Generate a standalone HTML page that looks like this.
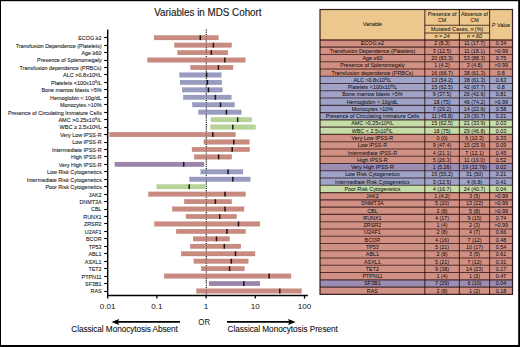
<!DOCTYPE html>
<html><head><meta charset="utf-8"><style>
html,body{margin:0;padding:0;background:#fff;}
body{width:520px;height:347px;position:relative;overflow:hidden;font-family:"Liberation Sans",sans-serif;}
svg text{font-family:"Liberation Sans",sans-serif;}
svg text.s{stroke:#222;stroke-width:0.1px;}
svg text.t{stroke:rgba(0,0,0,0.7);stroke-width:0.1px;}
</style></head><body>
<svg width="520" height="347" viewBox="0 0 520 347" style="position:absolute;left:0;top:0">
<text x="154.2" y="15.5" font-size="10.4" fill="#1a1a1a" stroke="#1a1a1a" stroke-width="0.15" textLength="107.4" lengthAdjust="spacingAndGlyphs">Variables in MDS Cohort</text>
<line x1="206.3" y1="29.5" x2="206.3" y2="295.5" stroke="#111" stroke-width="1.1" stroke-dasharray="1.1,1.1"/>
<rect x="154.1" y="35.45" width="64.3" height="4.5" fill="#c98a80" stroke="#b87b72" stroke-width="0.3"/>
<rect x="199.55" y="35.30" width="1.5" height="4.8" fill="rgba(10,0,0,0.88)"/>
<text x="101.6" y="40.10" font-size="6.1" text-anchor="end" fill="#222" class="s" textLength="23.37" lengthAdjust="spacingAndGlyphs">ECOG ≥2</text>
<line x1="104.2" y1="37.50" x2="107.7" y2="37.50" stroke="#000" stroke-width="1.1"/>
<rect x="174.4" y="42.90" width="57.2" height="4.5" fill="#c98a80" stroke="#b87b72" stroke-width="0.3"/>
<rect x="212.65" y="42.75" width="1.5" height="4.8" fill="rgba(10,0,0,0.88)"/>
<text x="101.6" y="47.55" font-size="6.1" text-anchor="end" fill="#222" class="s" textLength="85.94" lengthAdjust="spacingAndGlyphs">Transfusion Dependence (Platelets)</text>
<line x1="104.2" y1="45.50" x2="107.7" y2="45.50" stroke="#000" stroke-width="1.1"/>
<rect x="177.7" y="50.35" width="50.2" height="4.5" fill="#c98a80" stroke="#b87b72" stroke-width="0.3"/>
<rect x="210.55" y="50.20" width="1.5" height="4.8" fill="rgba(10,0,0,0.88)"/>
<text x="101.6" y="55.00" font-size="6.1" text-anchor="end" fill="#222" class="s" textLength="20.08" lengthAdjust="spacingAndGlyphs">Age ≥60</text>
<line x1="104.2" y1="52.50" x2="107.7" y2="52.50" stroke="#000" stroke-width="1.1"/>
<rect x="147.6" y="57.80" width="97.6" height="4.5" fill="#c98a80" stroke="#b87b72" stroke-width="0.3"/>
<rect x="224.05" y="57.65" width="1.5" height="4.8" fill="rgba(10,0,0,0.88)"/>
<text x="101.6" y="62.45" font-size="6.1" text-anchor="end" fill="#222" class="s" textLength="64.54" lengthAdjust="spacingAndGlyphs">Presence of Splenomegaly</text>
<line x1="104.2" y1="60.50" x2="107.7" y2="60.50" stroke="#000" stroke-width="1.1"/>
<rect x="190.5" y="65.25" width="42.5" height="4.5" fill="#c98a80" stroke="#b87b72" stroke-width="0.3"/>
<rect x="217.65" y="65.10" width="1.5" height="4.8" fill="rgba(10,0,0,0.88)"/>
<text x="101.6" y="69.90" font-size="6.1" text-anchor="end" fill="#222" class="s" textLength="82.04" lengthAdjust="spacingAndGlyphs">Transfusion dependence (PRBCs)</text>
<line x1="104.2" y1="67.50" x2="107.7" y2="67.50" stroke="#000" stroke-width="1.1"/>
<rect x="179.6" y="72.70" width="41.6" height="4.5" fill="#979cc0" stroke="#868bb0" stroke-width="0.3"/>
<rect x="205.85" y="72.55" width="1.5" height="4.8" fill="rgba(10,0,0,0.88)"/>
<text x="101.6" y="77.30" font-size="5.5" text-anchor="end" fill="#222" class="s">ALC &gt;0.8x10<tspan font-size='3.6' dy='-1.8'>9</tspan><tspan dy='1.8'>/L</tspan></text>
<line x1="104.2" y1="74.50" x2="107.7" y2="74.50" stroke="#000" stroke-width="1.1"/>
<rect x="180.1" y="80.15" width="41.7" height="4.5" fill="#979cc0" stroke="#868bb0" stroke-width="0.3"/>
<rect x="206.65" y="80.00" width="1.5" height="4.8" fill="rgba(10,0,0,0.88)"/>
<text x="101.6" y="84.75" font-size="5.5" text-anchor="end" fill="#222" class="s">Platelets &lt;100x10<tspan font-size='3.6' dy='-1.8'>9</tspan><tspan dy='1.8'>/L</tspan></text>
<line x1="104.2" y1="82.50" x2="107.7" y2="82.50" stroke="#000" stroke-width="1.1"/>
<rect x="182.2" y="87.60" width="40.2" height="4.5" fill="#979cc0" stroke="#868bb0" stroke-width="0.3"/>
<rect x="207.75" y="87.45" width="1.5" height="4.8" fill="rgba(10,0,0,0.88)"/>
<text x="101.6" y="92.25" font-size="6.1" text-anchor="end" fill="#222" class="s" textLength="60.18" lengthAdjust="spacingAndGlyphs">Bone marrow blasts &gt;5%</text>
<line x1="104.2" y1="89.50" x2="107.7" y2="89.50" stroke="#000" stroke-width="1.1"/>
<rect x="183.3" y="95.05" width="48.0" height="4.5" fill="#979cc0" stroke="#868bb0" stroke-width="0.3"/>
<rect x="214.65" y="94.90" width="1.5" height="4.8" fill="rgba(10,0,0,0.88)"/>
<text x="101.6" y="99.70" font-size="6.1" text-anchor="end" fill="#222" class="s" textLength="51.48" lengthAdjust="spacingAndGlyphs">Hemoglobin &lt; 10g/dL</text>
<line x1="104.2" y1="97.50" x2="107.7" y2="97.50" stroke="#000" stroke-width="1.1"/>
<rect x="192.4" y="102.50" width="42.1" height="4.5" fill="#979cc0" stroke="#868bb0" stroke-width="0.3"/>
<rect x="219.75" y="102.35" width="1.5" height="4.8" fill="rgba(10,0,0,0.88)"/>
<text x="101.6" y="107.15" font-size="6.1" text-anchor="end" fill="#222" class="s" textLength="41.57" lengthAdjust="spacingAndGlyphs">Monocytes &gt;10%</text>
<line x1="104.2" y1="104.50" x2="107.7" y2="104.50" stroke="#000" stroke-width="1.1"/>
<rect x="198.5" y="109.95" width="42.8" height="4.5" fill="#979cc0" stroke="#868bb0" stroke-width="0.3"/>
<rect x="225.65" y="109.80" width="1.5" height="4.8" fill="rgba(10,0,0,0.88)"/>
<text x="101.6" y="114.60" font-size="6.1" text-anchor="end" fill="#222" class="s" textLength="93.63" lengthAdjust="spacingAndGlyphs">Presence of Circulating Immature Cells</text>
<line x1="104.2" y1="112.50" x2="107.7" y2="112.50" stroke="#000" stroke-width="1.1"/>
<rect x="211.0" y="117.40" width="40.8" height="4.5" fill="#b6d498" stroke="#a3c286" stroke-width="0.3"/>
<rect x="236.95" y="117.25" width="1.5" height="4.8" fill="rgba(10,0,0,0.88)"/>
<text x="101.6" y="122.00" font-size="5.5" text-anchor="end" fill="#222" class="s">AMC &gt;0.25x10<tspan font-size='3.6' dy='-1.8'>9</tspan><tspan dy='1.8'>/L</tspan></text>
<line x1="104.2" y1="119.50" x2="107.7" y2="119.50" stroke="#000" stroke-width="1.1"/>
<rect x="210.6" y="124.85" width="45.0" height="4.5" fill="#b6d498" stroke="#a3c286" stroke-width="0.3"/>
<rect x="232.05" y="124.70" width="1.5" height="4.8" fill="rgba(10,0,0,0.88)"/>
<text x="101.6" y="129.45" font-size="5.5" text-anchor="end" fill="#222" class="s">WBC ≥ 2.5x10<tspan font-size='3.6' dy='-1.8'>9</tspan><tspan dy='1.8'>/L</tspan></text>
<line x1="104.2" y1="127.50" x2="107.7" y2="127.50" stroke="#000" stroke-width="1.1"/>
<rect x="109.7" y="132.30" width="125.8" height="4.5" fill="#c98a80" stroke="#b87b72" stroke-width="0.3"/>
<rect x="212.05" y="132.15" width="1.5" height="4.8" fill="rgba(10,0,0,0.88)"/>
<text x="101.6" y="136.95" font-size="6.1" text-anchor="end" fill="#222" class="s" textLength="41.72" lengthAdjust="spacingAndGlyphs">Very Low IPSS-R</text>
<line x1="104.2" y1="134.50" x2="107.7" y2="134.50" stroke="#000" stroke-width="1.1"/>
<rect x="203.9" y="139.75" width="45.4" height="4.5" fill="#c98a80" stroke="#b87b72" stroke-width="0.3"/>
<rect x="233.05" y="139.60" width="1.5" height="4.8" fill="rgba(10,0,0,0.88)"/>
<text x="101.6" y="144.40" font-size="6.1" text-anchor="end" fill="#222" class="s" textLength="29.41" lengthAdjust="spacingAndGlyphs">Low IPSS-R</text>
<line x1="104.2" y1="142.50" x2="107.7" y2="142.50" stroke="#000" stroke-width="1.1"/>
<rect x="192.0" y="147.20" width="57.7" height="4.5" fill="#c98a80" stroke="#b87b72" stroke-width="0.3"/>
<rect x="231.45" y="147.05" width="1.5" height="4.8" fill="rgba(10,0,0,0.88)"/>
<text x="101.6" y="151.85" font-size="6.1" text-anchor="end" fill="#222" class="s" textLength="49.52" lengthAdjust="spacingAndGlyphs">Intermediate IPSS-R</text>
<line x1="104.2" y1="149.50" x2="107.7" y2="149.50" stroke="#000" stroke-width="1.1"/>
<rect x="194.3" y="154.65" width="37.4" height="4.5" fill="#c98a80" stroke="#b87b72" stroke-width="0.3"/>
<rect x="217.85" y="154.50" width="1.5" height="4.8" fill="rgba(10,0,0,0.88)"/>
<text x="101.6" y="159.30" font-size="6.1" text-anchor="end" fill="#222" class="s" textLength="30.61" lengthAdjust="spacingAndGlyphs">High IPSS-R</text>
<line x1="104.2" y1="156.50" x2="107.7" y2="156.50" stroke="#000" stroke-width="1.1"/>
<rect x="114.9" y="162.10" width="89.1" height="4.5" fill="#9b85ab" stroke="#8a749a" stroke-width="0.3"/>
<rect x="182.95" y="161.95" width="1.5" height="4.8" fill="rgba(10,0,0,0.88)"/>
<text x="101.6" y="166.75" font-size="6.1" text-anchor="end" fill="#222" class="s" textLength="42.91" lengthAdjust="spacingAndGlyphs">Very High IPSS-R</text>
<line x1="104.2" y1="164.50" x2="107.7" y2="164.50" stroke="#000" stroke-width="1.1"/>
<rect x="200.8" y="169.55" width="42.1" height="4.5" fill="#979cc0" stroke="#868bb0" stroke-width="0.3"/>
<rect x="227.35" y="169.40" width="1.5" height="4.8" fill="rgba(10,0,0,0.88)"/>
<text x="101.6" y="174.20" font-size="6.1" text-anchor="end" fill="#222" class="s" textLength="54.62" lengthAdjust="spacingAndGlyphs">Low Risk Cytogenetics</text>
<line x1="104.2" y1="171.50" x2="107.7" y2="171.50" stroke="#000" stroke-width="1.1"/>
<rect x="189.6" y="177.00" width="60.7" height="4.5" fill="#979cc0" stroke="#868bb0" stroke-width="0.3"/>
<rect x="232.05" y="176.85" width="1.5" height="4.8" fill="rgba(10,0,0,0.88)"/>
<text x="101.6" y="181.65" font-size="6.1" text-anchor="end" fill="#222" class="s" textLength="74.73" lengthAdjust="spacingAndGlyphs">Intermediate Risk Cytogenetics</text>
<line x1="104.2" y1="179.50" x2="107.7" y2="179.50" stroke="#000" stroke-width="1.1"/>
<rect x="156.8" y="184.45" width="48.4" height="4.5" fill="#b6d498" stroke="#a3c286" stroke-width="0.3"/>
<rect x="188.45" y="184.30" width="1.5" height="4.8" fill="rgba(10,0,0,0.88)"/>
<text x="101.6" y="189.10" font-size="6.1" text-anchor="end" fill="#222" class="s" textLength="56.12" lengthAdjust="spacingAndGlyphs">Poor Risk Cytogenetics</text>
<line x1="104.2" y1="186.50" x2="107.7" y2="186.50" stroke="#000" stroke-width="1.1"/>
<rect x="148.4" y="191.90" width="97.1" height="4.5" fill="#c98a80" stroke="#b87b72" stroke-width="0.3"/>
<rect x="224.25" y="191.75" width="1.5" height="4.8" fill="rgba(10,0,0,0.88)"/>
<text x="101.6" y="196.55" font-size="6.1" text-anchor="end" fill="#222" class="s" textLength="12.91" lengthAdjust="spacingAndGlyphs">JAK2</text>
<line x1="104.2" y1="194.50" x2="107.7" y2="194.50" stroke="#000" stroke-width="1.1"/>
<rect x="184.3" y="199.35" width="47.4" height="4.5" fill="#c98a80" stroke="#b87b72" stroke-width="0.3"/>
<rect x="214.65" y="199.20" width="1.5" height="4.8" fill="rgba(10,0,0,0.88)"/>
<text x="101.6" y="204.00" font-size="6.1" text-anchor="end" fill="#222" class="s" textLength="22.20" lengthAdjust="spacingAndGlyphs">DNMT3A</text>
<line x1="104.2" y1="201.50" x2="107.7" y2="201.50" stroke="#000" stroke-width="1.1"/>
<rect x="172.3" y="206.80" width="71.7" height="4.5" fill="#c98a80" stroke="#b87b72" stroke-width="0.3"/>
<rect x="224.25" y="206.65" width="1.5" height="4.8" fill="rgba(10,0,0,0.88)"/>
<text x="101.6" y="211.45" font-size="6.1" text-anchor="end" fill="#222" class="s" textLength="10.50" lengthAdjust="spacingAndGlyphs">CBL</text>
<line x1="104.2" y1="209.50" x2="107.7" y2="209.50" stroke="#000" stroke-width="1.1"/>
<rect x="186.0" y="214.25" width="50.6" height="4.5" fill="#c98a80" stroke="#b87b72" stroke-width="0.3"/>
<rect x="218.95" y="214.10" width="1.5" height="4.8" fill="rgba(10,0,0,0.88)"/>
<text x="101.6" y="218.90" font-size="6.1" text-anchor="end" fill="#222" class="s" textLength="18.30" lengthAdjust="spacingAndGlyphs">RUNX1</text>
<line x1="104.2" y1="216.50" x2="107.7" y2="216.50" stroke="#000" stroke-width="1.1"/>
<rect x="154.5" y="221.70" width="105.4" height="4.5" fill="#c98a80" stroke="#b87b72" stroke-width="0.3"/>
<rect x="237.75" y="221.55" width="1.5" height="4.8" fill="rgba(10,0,0,0.88)"/>
<text x="101.6" y="226.35" font-size="6.1" text-anchor="end" fill="#222" class="s" textLength="17.70" lengthAdjust="spacingAndGlyphs">ZRSR2</text>
<line x1="104.2" y1="223.50" x2="107.7" y2="223.50" stroke="#000" stroke-width="1.1"/>
<rect x="176.3" y="229.15" width="69.2" height="4.5" fill="#c98a80" stroke="#b87b72" stroke-width="0.3"/>
<rect x="226.15" y="229.00" width="1.5" height="4.8" fill="rgba(10,0,0,0.88)"/>
<text x="101.6" y="233.80" font-size="6.1" text-anchor="end" fill="#222" class="s" textLength="16.81" lengthAdjust="spacingAndGlyphs">U2AF1</text>
<line x1="104.2" y1="231.50" x2="107.7" y2="231.50" stroke="#000" stroke-width="1.1"/>
<rect x="193.2" y="236.60" width="36.4" height="4.5" fill="#c98a80" stroke="#b87b72" stroke-width="0.3"/>
<rect x="215.75" y="236.45" width="1.5" height="4.8" fill="rgba(10,0,0,0.88)"/>
<text x="101.6" y="241.25" font-size="6.1" text-anchor="end" fill="#222" class="s" textLength="15.60" lengthAdjust="spacingAndGlyphs">BCOR</text>
<line x1="104.2" y1="238.50" x2="107.7" y2="238.50" stroke="#000" stroke-width="1.1"/>
<rect x="190.3" y="244.05" width="50.5" height="4.5" fill="#c98a80" stroke="#b87b72" stroke-width="0.3"/>
<rect x="223.55" y="243.90" width="1.5" height="4.8" fill="rgba(10,0,0,0.88)"/>
<text x="101.6" y="248.70" font-size="6.1" text-anchor="end" fill="#222" class="s" textLength="12.91" lengthAdjust="spacingAndGlyphs">TP53</text>
<line x1="104.2" y1="246.50" x2="107.7" y2="246.50" stroke="#000" stroke-width="1.1"/>
<rect x="181.2" y="251.50" width="73.8" height="4.5" fill="#c98a80" stroke="#b87b72" stroke-width="0.3"/>
<rect x="234.75" y="251.35" width="1.5" height="4.8" fill="rgba(10,0,0,0.88)"/>
<text x="101.6" y="256.15" font-size="6.1" text-anchor="end" fill="#222" class="s" textLength="13.21" lengthAdjust="spacingAndGlyphs">ABL1</text>
<line x1="104.2" y1="253.50" x2="107.7" y2="253.50" stroke="#000" stroke-width="1.1"/>
<rect x="193.9" y="258.95" width="54.3" height="4.5" fill="#c98a80" stroke="#b87b72" stroke-width="0.3"/>
<rect x="230.55" y="258.80" width="1.5" height="4.8" fill="rgba(10,0,0,0.88)"/>
<text x="101.6" y="263.60" font-size="6.1" text-anchor="end" fill="#222" class="s" textLength="16.81" lengthAdjust="spacingAndGlyphs">ASXL1</text>
<line x1="104.2" y1="261.50" x2="107.7" y2="261.50" stroke="#000" stroke-width="1.1"/>
<rect x="201.3" y="266.40" width="43.1" height="4.5" fill="#c98a80" stroke="#b87b72" stroke-width="0.3"/>
<rect x="228.85" y="266.25" width="1.5" height="4.8" fill="rgba(10,0,0,0.88)"/>
<text x="101.6" y="271.05" font-size="6.1" text-anchor="end" fill="#222" class="s" textLength="13.20" lengthAdjust="spacingAndGlyphs">TET2</text>
<line x1="104.2" y1="268.50" x2="107.7" y2="268.50" stroke="#000" stroke-width="1.1"/>
<rect x="164.2" y="273.85" width="126.8" height="4.5" fill="#c98a80" stroke="#b87b72" stroke-width="0.3"/>
<rect x="268.45" y="273.70" width="1.5" height="4.8" fill="rgba(10,0,0,0.88)"/>
<text x="101.6" y="278.50" font-size="6.1" text-anchor="end" fill="#222" class="s" textLength="20.01" lengthAdjust="spacingAndGlyphs">PTPN11</text>
<line x1="104.2" y1="276.50" x2="107.7" y2="276.50" stroke="#000" stroke-width="1.1"/>
<rect x="209.1" y="281.30" width="50.8" height="4.5" fill="#9b85ab" stroke="#8a749a" stroke-width="0.3"/>
<rect x="243.05" y="281.15" width="1.5" height="4.8" fill="rgba(10,0,0,0.88)"/>
<text x="101.6" y="285.95" font-size="6.1" text-anchor="end" fill="#222" class="s" textLength="16.51" lengthAdjust="spacingAndGlyphs">SF3B1</text>
<line x1="104.2" y1="283.50" x2="107.7" y2="283.50" stroke="#000" stroke-width="1.1"/>
<rect x="196.6" y="288.75" width="104.9" height="4.5" fill="#c98a80" stroke="#b87b72" stroke-width="0.3"/>
<rect x="279.05" y="288.60" width="1.5" height="4.8" fill="rgba(10,0,0,0.88)"/>
<text x="101.6" y="293.40" font-size="6.1" text-anchor="end" fill="#222" class="s" textLength="11.10" lengthAdjust="spacingAndGlyphs">RAS</text>
<line x1="104.2" y1="291.50" x2="107.7" y2="291.50" stroke="#000" stroke-width="1.1"/>
<line x1="206.3" y1="29.5" x2="206.3" y2="295.5" stroke="#111" stroke-width="1.1" stroke-dasharray="1.1,1.1" opacity="0.35"/>
<line x1="107.7" y1="29.5" x2="107.7" y2="296.1" stroke="#000" stroke-width="1.4"/>
<line x1="107.0" y1="295.5" x2="307.8" y2="295.5" stroke="#000" stroke-width="1.4"/>
<line x1="107.7" y1="295.5" x2="107.7" y2="298.6" stroke="#000" stroke-width="1.3"/>
<text x="107.7" y="308.8" font-size="8.1" text-anchor="middle" fill="#111">0.01</text>
<line x1="156.9" y1="295.5" x2="156.9" y2="298.6" stroke="#000" stroke-width="1.3"/>
<text x="156.9" y="308.8" font-size="8.1" text-anchor="middle" fill="#111">0.1</text>
<line x1="206.1" y1="295.5" x2="206.1" y2="298.6" stroke="#000" stroke-width="1.3"/>
<text x="206.1" y="308.8" font-size="8.1" text-anchor="middle" fill="#111">1</text>
<line x1="255.3" y1="295.5" x2="255.3" y2="298.6" stroke="#000" stroke-width="1.3"/>
<text x="255.3" y="308.8" font-size="8.1" text-anchor="middle" fill="#111">10</text>
<line x1="304.5" y1="295.5" x2="304.5" y2="298.6" stroke="#000" stroke-width="1.3"/>
<text x="304.5" y="308.8" font-size="8.1" text-anchor="middle" fill="#111">100</text>
<text x="204.2" y="325.2" font-size="9.9" text-anchor="middle" fill="#111" textLength="11.8" lengthAdjust="spacingAndGlyphs">OR</text>
<line x1="116" y1="321.9" x2="180" y2="321.9" stroke="#000" stroke-width="1.8"/>
<path d="M111.5,321.9 L119.2,318.9 L117.8,321.9 L119.2,324.9 Z" fill="#000"/>
<line x1="227" y1="321.9" x2="291" y2="321.9" stroke="#000" stroke-width="1.8"/>
<path d="M295.7,321.9 L288,318.9 L289.4,321.9 L288,324.9 Z" fill="#000"/>
<text x="71.3" y="332.3" font-size="8.25" fill="#111" stroke="#111" stroke-width="0.08" textLength="106.6" lengthAdjust="spacing">Classical Monocytosis Absent</text>
<text x="227.6" y="332.3" font-size="8.25" fill="#111" stroke="#111" stroke-width="0.08" textLength="110.2" lengthAdjust="spacing">Classical Monocytosis Present</text>
<rect x="320.0" y="9.5" width="192.5" height="30.4" fill="#ecc88e"/>
<rect x="320.0" y="39.90" width="192.5" height="7.271" fill="#d19084"/>
<rect x="320.0" y="47.17" width="192.5" height="7.271" fill="#d19084"/>
<rect x="320.0" y="54.44" width="192.5" height="7.271" fill="#d19084"/>
<rect x="320.0" y="61.71" width="192.5" height="7.271" fill="#d19084"/>
<rect x="320.0" y="68.98" width="192.5" height="7.271" fill="#d19084"/>
<rect x="320.0" y="76.25" width="192.5" height="7.271" fill="#9ea3c7"/>
<rect x="320.0" y="83.53" width="192.5" height="7.271" fill="#9ea3c7"/>
<rect x="320.0" y="90.80" width="192.5" height="7.271" fill="#9ea3c7"/>
<rect x="320.0" y="98.07" width="192.5" height="7.271" fill="#9ea3c7"/>
<rect x="320.0" y="105.34" width="192.5" height="7.271" fill="#9ea3c7"/>
<rect x="320.0" y="112.61" width="192.5" height="7.271" fill="#9ea3c7"/>
<rect x="320.0" y="119.88" width="192.5" height="7.271" fill="#c6dca8"/>
<rect x="320.0" y="127.15" width="192.5" height="7.271" fill="#c6dca8"/>
<rect x="320.0" y="134.42" width="192.5" height="7.271" fill="#d19084"/>
<rect x="320.0" y="141.69" width="192.5" height="7.271" fill="#d19084"/>
<rect x="320.0" y="148.97" width="192.5" height="7.271" fill="#d19084"/>
<rect x="320.0" y="156.24" width="192.5" height="7.271" fill="#d19084"/>
<rect x="320.0" y="163.51" width="192.5" height="7.271" fill="#9c8db2"/>
<rect x="320.0" y="170.78" width="192.5" height="7.271" fill="#9ea3c7"/>
<rect x="320.0" y="178.05" width="192.5" height="7.271" fill="#9ea3c7"/>
<rect x="320.0" y="185.32" width="192.5" height="7.271" fill="#c6dca8"/>
<rect x="320.0" y="192.59" width="192.5" height="7.271" fill="#d19084"/>
<rect x="320.0" y="199.86" width="192.5" height="7.271" fill="#d19084"/>
<rect x="320.0" y="207.13" width="192.5" height="7.271" fill="#d19084"/>
<rect x="320.0" y="214.40" width="192.5" height="7.271" fill="#d19084"/>
<rect x="320.0" y="221.68" width="192.5" height="7.271" fill="#d19084"/>
<rect x="320.0" y="228.95" width="192.5" height="7.271" fill="#d19084"/>
<rect x="320.0" y="236.22" width="192.5" height="7.271" fill="#d19084"/>
<rect x="320.0" y="243.49" width="192.5" height="7.271" fill="#d19084"/>
<rect x="320.0" y="250.76" width="192.5" height="7.271" fill="#d19084"/>
<rect x="320.0" y="258.03" width="192.5" height="7.271" fill="#d19084"/>
<rect x="320.0" y="265.30" width="192.5" height="7.271" fill="#d19084"/>
<rect x="320.0" y="272.57" width="192.5" height="7.271" fill="#d19084"/>
<rect x="320.0" y="279.84" width="192.5" height="7.271" fill="#9c8db2"/>
<rect x="320.0" y="287.11" width="192.5" height="7.271" fill="#d19084"/>
<line x1="424.8" y1="25.2" x2="489.6" y2="25.2" stroke="rgba(30,0,0,0.72)" stroke-width="1.1"/>
<line x1="424.8" y1="33.0" x2="489.6" y2="33.0" stroke="rgba(30,0,0,0.72)" stroke-width="1.1"/>
<line x1="320.0" y1="47.17" x2="512.5" y2="47.17" stroke="rgba(30,0,0,0.72)" stroke-width="1.1"/>
<line x1="320.0" y1="54.44" x2="512.5" y2="54.44" stroke="rgba(30,0,0,0.72)" stroke-width="1.1"/>
<line x1="320.0" y1="61.71" x2="512.5" y2="61.71" stroke="rgba(30,0,0,0.72)" stroke-width="1.1"/>
<line x1="320.0" y1="68.98" x2="512.5" y2="68.98" stroke="rgba(30,0,0,0.72)" stroke-width="1.1"/>
<line x1="320.0" y1="76.25" x2="512.5" y2="76.25" stroke="rgba(30,0,0,0.72)" stroke-width="1.1"/>
<line x1="320.0" y1="83.53" x2="512.5" y2="83.53" stroke="rgba(30,0,0,0.72)" stroke-width="1.1"/>
<line x1="320.0" y1="90.80" x2="512.5" y2="90.80" stroke="rgba(30,0,0,0.72)" stroke-width="1.1"/>
<line x1="320.0" y1="98.07" x2="512.5" y2="98.07" stroke="rgba(30,0,0,0.72)" stroke-width="1.1"/>
<line x1="320.0" y1="105.34" x2="512.5" y2="105.34" stroke="rgba(30,0,0,0.72)" stroke-width="1.1"/>
<line x1="320.0" y1="112.61" x2="512.5" y2="112.61" stroke="rgba(30,0,0,0.72)" stroke-width="1.1"/>
<line x1="320.0" y1="119.88" x2="512.5" y2="119.88" stroke="rgba(30,0,0,0.72)" stroke-width="1.1"/>
<line x1="320.0" y1="127.15" x2="512.5" y2="127.15" stroke="rgba(30,0,0,0.72)" stroke-width="1.1"/>
<line x1="320.0" y1="134.42" x2="512.5" y2="134.42" stroke="rgba(30,0,0,0.72)" stroke-width="1.1"/>
<line x1="320.0" y1="141.69" x2="512.5" y2="141.69" stroke="rgba(30,0,0,0.72)" stroke-width="1.1"/>
<line x1="320.0" y1="148.97" x2="512.5" y2="148.97" stroke="rgba(30,0,0,0.72)" stroke-width="1.1"/>
<line x1="320.0" y1="156.24" x2="512.5" y2="156.24" stroke="rgba(30,0,0,0.72)" stroke-width="1.1"/>
<line x1="320.0" y1="163.51" x2="512.5" y2="163.51" stroke="rgba(30,0,0,0.72)" stroke-width="1.1"/>
<line x1="320.0" y1="170.78" x2="512.5" y2="170.78" stroke="rgba(30,0,0,0.72)" stroke-width="1.1"/>
<line x1="320.0" y1="178.05" x2="512.5" y2="178.05" stroke="rgba(30,0,0,0.72)" stroke-width="1.1"/>
<line x1="320.0" y1="185.32" x2="512.5" y2="185.32" stroke="rgba(30,0,0,0.72)" stroke-width="1.1"/>
<line x1="320.0" y1="192.59" x2="512.5" y2="192.59" stroke="rgba(30,0,0,0.72)" stroke-width="1.1"/>
<line x1="320.0" y1="199.86" x2="512.5" y2="199.86" stroke="rgba(30,0,0,0.72)" stroke-width="1.1"/>
<line x1="320.0" y1="207.13" x2="512.5" y2="207.13" stroke="rgba(30,0,0,0.72)" stroke-width="1.1"/>
<line x1="320.0" y1="214.40" x2="512.5" y2="214.40" stroke="rgba(30,0,0,0.72)" stroke-width="1.1"/>
<line x1="320.0" y1="221.68" x2="512.5" y2="221.68" stroke="rgba(30,0,0,0.72)" stroke-width="1.1"/>
<line x1="320.0" y1="228.95" x2="512.5" y2="228.95" stroke="rgba(30,0,0,0.72)" stroke-width="1.1"/>
<line x1="320.0" y1="236.22" x2="512.5" y2="236.22" stroke="rgba(30,0,0,0.72)" stroke-width="1.1"/>
<line x1="320.0" y1="243.49" x2="512.5" y2="243.49" stroke="rgba(30,0,0,0.72)" stroke-width="1.1"/>
<line x1="320.0" y1="250.76" x2="512.5" y2="250.76" stroke="rgba(30,0,0,0.72)" stroke-width="1.1"/>
<line x1="320.0" y1="258.03" x2="512.5" y2="258.03" stroke="rgba(30,0,0,0.72)" stroke-width="1.1"/>
<line x1="320.0" y1="265.30" x2="512.5" y2="265.30" stroke="rgba(30,0,0,0.72)" stroke-width="1.1"/>
<line x1="320.0" y1="272.57" x2="512.5" y2="272.57" stroke="rgba(30,0,0,0.72)" stroke-width="1.1"/>
<line x1="320.0" y1="279.84" x2="512.5" y2="279.84" stroke="rgba(30,0,0,0.72)" stroke-width="1.1"/>
<line x1="320.0" y1="287.11" x2="512.5" y2="287.11" stroke="rgba(30,0,0,0.72)" stroke-width="1.1"/>
<line x1="320.0" y1="39.9" x2="512.5" y2="39.9" stroke="rgba(40,10,0,0.75)" stroke-width="1.5"/>
<line x1="424.8" y1="9.5" x2="424.8" y2="294.38" stroke="rgba(30,0,0,0.72)" stroke-width="1.1"/>
<line x1="459.4" y1="9.5" x2="459.4" y2="25.2" stroke="rgba(30,0,0,0.72)" stroke-width="1.1"/>
<line x1="459.4" y1="33.0" x2="459.4" y2="294.38" stroke="rgba(30,0,0,0.72)" stroke-width="1.1"/>
<line x1="489.6" y1="9.5" x2="489.6" y2="294.38" stroke="rgba(30,0,0,0.72)" stroke-width="1.1"/>
<rect x="320.0" y="9.5" width="192.5" height="284.88" fill="none" stroke="rgba(20,0,0,0.85)" stroke-width="1.2"/>
<text x="372.4" y="26.30" font-size="5.4" text-anchor="middle" fill="rgba(0,0,0,0.88)" class="t">Variable</text>
<text x="442.1" y="16.00" font-size="5.4" text-anchor="middle" fill="rgba(0,0,0,0.88)" class="t">Presence of</text>
<text x="442.1" y="22.40" font-size="5.4" text-anchor="middle" fill="rgba(0,0,0,0.88)" class="t">CM</text>
<text x="474.5" y="16.00" font-size="5.4" text-anchor="middle" fill="rgba(0,0,0,0.88)" class="t">Absence of</text>
<text x="474.5" y="22.40" font-size="5.4" text-anchor="middle" fill="rgba(0,0,0,0.88)" class="t">CM</text>
<text x="457.2" y="31.10" font-size="5.4" text-anchor="middle" fill="rgba(0,0,0,0.88)" class="t">Mutated Cases, <tspan font-style='italic'>n</tspan> (%)</text>
<text x="442.1" y="38.20" font-size="5.4" text-anchor="middle" fill="rgba(0,0,0,0.88)" class="t" font-style="italic">n = 24</text>
<text x="474.5" y="38.20" font-size="5.4" text-anchor="middle" fill="rgba(0,0,0,0.88)" class="t" font-style="italic">n = 60</text>
<text x="501.1" y="26.70" font-size="5.4" text-anchor="middle" fill="rgba(0,0,0,0.88)" class="t"><tspan font-style='italic'>P</tspan> Value</text>
<text x="372.4" y="45.44" font-size="5.4" text-anchor="middle" fill="rgba(0,0,0,0.88)" class="t">ECOG ≥2</text>
<text x="442.1" y="45.44" font-size="5.4" text-anchor="middle" fill="rgba(0,0,0,0.88)" class="t">2 (8.3)</text>
<text x="474.5" y="45.44" font-size="5.4" text-anchor="middle" fill="rgba(0,0,0,0.88)" class="t">11 (17.7)</text>
<text x="501.1" y="45.44" font-size="5.4" text-anchor="middle" fill="rgba(0,0,0,0.88)" class="t">0.34</text>
<text x="372.4" y="52.71" font-size="5.4" text-anchor="middle" fill="rgba(0,0,0,0.88)" class="t">Transfusion Dependence (Platelets)</text>
<text x="442.1" y="52.71" font-size="5.4" text-anchor="middle" fill="rgba(0,0,0,0.88)" class="t">3 (12.5)</text>
<text x="474.5" y="52.71" font-size="5.4" text-anchor="middle" fill="rgba(0,0,0,0.88)" class="t">11 (18.1)</text>
<text x="501.1" y="52.71" font-size="5.4" text-anchor="middle" fill="rgba(0,0,0,0.88)" class="t">&gt;0.99</text>
<text x="372.4" y="59.98" font-size="5.4" text-anchor="middle" fill="rgba(0,0,0,0.88)" class="t">Age ≥60</text>
<text x="442.1" y="59.98" font-size="5.4" text-anchor="middle" fill="rgba(0,0,0,0.88)" class="t">20 (83.3)</text>
<text x="474.5" y="59.98" font-size="5.4" text-anchor="middle" fill="rgba(0,0,0,0.88)" class="t">53 (88.3)</text>
<text x="501.1" y="59.98" font-size="5.4" text-anchor="middle" fill="rgba(0,0,0,0.88)" class="t">0.75</text>
<text x="372.4" y="67.25" font-size="5.4" text-anchor="middle" fill="rgba(0,0,0,0.88)" class="t">Presence of Splenomegaly</text>
<text x="442.1" y="67.25" font-size="5.4" text-anchor="middle" fill="rgba(0,0,0,0.88)" class="t">1 (4.2)</text>
<text x="474.5" y="67.25" font-size="5.4" text-anchor="middle" fill="rgba(0,0,0,0.88)" class="t">3 (4.8)</text>
<text x="501.1" y="67.25" font-size="5.4" text-anchor="middle" fill="rgba(0,0,0,0.88)" class="t">&gt;0.99</text>
<text x="372.4" y="74.52" font-size="5.4" text-anchor="middle" fill="rgba(0,0,0,0.88)" class="t">Transfusion dependence (PRBCs)</text>
<text x="442.1" y="74.52" font-size="5.4" text-anchor="middle" fill="rgba(0,0,0,0.88)" class="t">16 (66.7)</text>
<text x="474.5" y="74.52" font-size="5.4" text-anchor="middle" fill="rgba(0,0,0,0.88)" class="t">38 (61.3)</text>
<text x="501.1" y="74.52" font-size="5.4" text-anchor="middle" fill="rgba(0,0,0,0.88)" class="t">0.8</text>
<text x="372.4" y="81.79" font-size="5.4" text-anchor="middle" fill="rgba(0,0,0,0.88)" class="t">ALC &gt;0.8x10<tspan font-size='3.6' dy='-1.8'>9</tspan><tspan dy='1.8'>/L</tspan></text>
<text x="442.1" y="81.79" font-size="5.4" text-anchor="middle" fill="rgba(0,0,0,0.88)" class="t">13 (54.2)</text>
<text x="474.5" y="81.79" font-size="5.4" text-anchor="middle" fill="rgba(0,0,0,0.88)" class="t">38 (61.3)</text>
<text x="501.1" y="81.79" font-size="5.4" text-anchor="middle" fill="rgba(0,0,0,0.88)" class="t">0.63</text>
<text x="372.4" y="89.06" font-size="5.4" text-anchor="middle" fill="rgba(0,0,0,0.88)" class="t">Platelets &lt;100x10<tspan font-size='3.6' dy='-1.8'>9</tspan><tspan dy='1.8'>/L</tspan></text>
<text x="442.1" y="89.06" font-size="5.4" text-anchor="middle" fill="rgba(0,0,0,0.88)" class="t">15 (62.5)</text>
<text x="474.5" y="89.06" font-size="5.4" text-anchor="middle" fill="rgba(0,0,0,0.88)" class="t">42 (67.7)</text>
<text x="501.1" y="89.06" font-size="5.4" text-anchor="middle" fill="rgba(0,0,0,0.88)" class="t">0.8</text>
<text x="372.4" y="96.33" font-size="5.4" text-anchor="middle" fill="rgba(0,0,0,0.88)" class="t">Bone marrow blasts &gt;5%</text>
<text x="442.1" y="96.33" font-size="5.4" text-anchor="middle" fill="rgba(0,0,0,0.88)" class="t">9 (37.5)</text>
<text x="474.5" y="96.33" font-size="5.4" text-anchor="middle" fill="rgba(0,0,0,0.88)" class="t">26 (42.6)</text>
<text x="501.1" y="96.33" font-size="5.4" text-anchor="middle" fill="rgba(0,0,0,0.88)" class="t">0.81</text>
<text x="372.4" y="103.60" font-size="5.4" text-anchor="middle" fill="rgba(0,0,0,0.88)" class="t">Hemoglobin &lt; 10g/dL</text>
<text x="442.1" y="103.60" font-size="5.4" text-anchor="middle" fill="rgba(0,0,0,0.88)" class="t">18 (75)</text>
<text x="474.5" y="103.60" font-size="5.4" text-anchor="middle" fill="rgba(0,0,0,0.88)" class="t">46 (74.2)</text>
<text x="501.1" y="103.60" font-size="5.4" text-anchor="middle" fill="rgba(0,0,0,0.88)" class="t">&gt;0.99</text>
<text x="372.4" y="110.87" font-size="5.4" text-anchor="middle" fill="rgba(0,0,0,0.88)" class="t">Monocytes &gt;10%</text>
<text x="442.1" y="110.87" font-size="5.4" text-anchor="middle" fill="rgba(0,0,0,0.88)" class="t">7 (29.2)</text>
<text x="474.5" y="110.87" font-size="5.4" text-anchor="middle" fill="rgba(0,0,0,0.88)" class="t">14 (22.6)</text>
<text x="501.1" y="110.87" font-size="5.4" text-anchor="middle" fill="rgba(0,0,0,0.88)" class="t">0.58</text>
<text x="372.4" y="118.15" font-size="5.4" text-anchor="middle" fill="rgba(0,0,0,0.88)" class="t">Presence of Circulating Immature Cells</text>
<text x="442.1" y="118.15" font-size="5.4" text-anchor="middle" fill="rgba(0,0,0,0.88)" class="t">11 (45.8)</text>
<text x="474.5" y="118.15" font-size="5.4" text-anchor="middle" fill="rgba(0,0,0,0.88)" class="t">19 (30.7)</text>
<text x="501.1" y="118.15" font-size="5.4" text-anchor="middle" fill="rgba(0,0,0,0.88)" class="t">0.21</text>
<text x="372.4" y="125.42" font-size="5.4" text-anchor="middle" fill="rgba(0,0,0,0.88)" class="t">AMC &gt;0.25x10<tspan font-size='3.6' dy='-1.8'>9</tspan><tspan dy='1.8'>/L</tspan></text>
<text x="442.1" y="125.42" font-size="5.4" text-anchor="middle" fill="rgba(0,0,0,0.88)" class="t">15 (62.5)</text>
<text x="474.5" y="125.42" font-size="5.4" text-anchor="middle" fill="rgba(0,0,0,0.88)" class="t">21 (33.9)</text>
<text x="501.1" y="125.42" font-size="5.4" text-anchor="middle" fill="rgba(0,0,0,0.88)" class="t">0.03</text>
<text x="372.4" y="132.69" font-size="5.4" text-anchor="middle" fill="rgba(0,0,0,0.88)" class="t">WBC &lt; 2.5x10<tspan font-size='3.6' dy='-1.8'>9</tspan><tspan dy='1.8'>/L</tspan></text>
<text x="442.1" y="132.69" font-size="5.4" text-anchor="middle" fill="rgba(0,0,0,0.88)" class="t">18 (75)</text>
<text x="474.5" y="132.69" font-size="5.4" text-anchor="middle" fill="rgba(0,0,0,0.88)" class="t">29 (46.8)</text>
<text x="501.1" y="132.69" font-size="5.4" text-anchor="middle" fill="rgba(0,0,0,0.88)" class="t">0.03</text>
<text x="372.4" y="139.96" font-size="5.4" text-anchor="middle" fill="rgba(0,0,0,0.88)" class="t">Very Low IPSS-R</text>
<text x="442.1" y="139.96" font-size="5.4" text-anchor="middle" fill="rgba(0,0,0,0.88)" class="t">0 (0)</text>
<text x="474.5" y="139.96" font-size="5.4" text-anchor="middle" fill="rgba(0,0,0,0.88)" class="t">6 (10.3)</text>
<text x="501.1" y="139.96" font-size="5.4" text-anchor="middle" fill="rgba(0,0,0,0.88)" class="t">0.33</text>
<text x="372.4" y="147.23" font-size="5.4" text-anchor="middle" fill="rgba(0,0,0,0.88)" class="t">Low IPSS-R</text>
<text x="442.1" y="147.23" font-size="5.4" text-anchor="middle" fill="rgba(0,0,0,0.88)" class="t">9 (47.4)</text>
<text x="474.5" y="147.23" font-size="5.4" text-anchor="middle" fill="rgba(0,0,0,0.88)" class="t">15 (25.9)</text>
<text x="501.1" y="147.23" font-size="5.4" text-anchor="middle" fill="rgba(0,0,0,0.88)" class="t">0.09</text>
<text x="372.4" y="154.50" font-size="5.4" text-anchor="middle" fill="rgba(0,0,0,0.88)" class="t">Intermediate IPSS-R</text>
<text x="442.1" y="154.50" font-size="5.4" text-anchor="middle" fill="rgba(0,0,0,0.88)" class="t">4 (21.1)</text>
<text x="474.5" y="154.50" font-size="5.4" text-anchor="middle" fill="rgba(0,0,0,0.88)" class="t">7 (12.1)</text>
<text x="501.1" y="154.50" font-size="5.4" text-anchor="middle" fill="rgba(0,0,0,0.88)" class="t">0.45</text>
<text x="372.4" y="161.77" font-size="5.4" text-anchor="middle" fill="rgba(0,0,0,0.88)" class="t">High IPSS-R</text>
<text x="442.1" y="161.77" font-size="5.4" text-anchor="middle" fill="rgba(0,0,0,0.88)" class="t">5 (26.3)</text>
<text x="474.5" y="161.77" font-size="5.4" text-anchor="middle" fill="rgba(0,0,0,0.88)" class="t">11 (19.0)</text>
<text x="501.1" y="161.77" font-size="5.4" text-anchor="middle" fill="rgba(0,0,0,0.88)" class="t">0.52</text>
<text x="372.4" y="169.04" font-size="5.4" text-anchor="middle" fill="rgba(0,0,0,0.88)" class="t">Very High IPSS-R</text>
<text x="442.1" y="169.04" font-size="5.4" text-anchor="middle" fill="rgba(0,0,0,0.88)" class="t">1 (5.26)</text>
<text x="474.5" y="169.04" font-size="5.4" text-anchor="middle" fill="rgba(0,0,0,0.88)" class="t">19 (32.76)</text>
<text x="501.1" y="169.04" font-size="5.4" text-anchor="middle" fill="rgba(0,0,0,0.88)" class="t">0.02</text>
<text x="372.4" y="176.31" font-size="5.4" text-anchor="middle" fill="rgba(0,0,0,0.88)" class="t">Low Risk Cytogenetics</text>
<text x="442.1" y="176.31" font-size="5.4" text-anchor="middle" fill="rgba(0,0,0,0.88)" class="t">15 (55.2)</text>
<text x="474.5" y="176.31" font-size="5.4" text-anchor="middle" fill="rgba(0,0,0,0.88)" class="t">31 (50)</text>
<text x="501.1" y="176.31" font-size="5.4" text-anchor="middle" fill="rgba(0,0,0,0.88)" class="t">0.21</text>
<text x="372.4" y="183.58" font-size="5.4" text-anchor="middle" fill="rgba(0,0,0,0.88)" class="t">Intermediate Risk Cytogenetics</text>
<text x="442.1" y="183.58" font-size="5.4" text-anchor="middle" fill="rgba(0,0,0,0.88)" class="t">3 (12.5)</text>
<text x="474.5" y="183.58" font-size="5.4" text-anchor="middle" fill="rgba(0,0,0,0.88)" class="t">4 (6.8)</text>
<text x="501.1" y="183.58" font-size="5.4" text-anchor="middle" fill="rgba(0,0,0,0.88)" class="t">0.41</text>
<text x="372.4" y="190.86" font-size="5.4" text-anchor="middle" fill="rgba(0,0,0,0.88)" class="t">Poor Risk Cytogenetics</text>
<text x="442.1" y="190.86" font-size="5.4" text-anchor="middle" fill="rgba(0,0,0,0.88)" class="t">4 (16.7)</text>
<text x="474.5" y="190.86" font-size="5.4" text-anchor="middle" fill="rgba(0,0,0,0.88)" class="t">24 (40.7)</text>
<text x="501.1" y="190.86" font-size="5.4" text-anchor="middle" fill="rgba(0,0,0,0.88)" class="t">0.04</text>
<text x="372.4" y="198.13" font-size="5.4" text-anchor="middle" fill="rgba(0,0,0,0.88)" class="t">JAK2</text>
<text x="442.1" y="198.13" font-size="5.4" text-anchor="middle" fill="rgba(0,0,0,0.88)" class="t">1 (4.2)</text>
<text x="474.5" y="198.13" font-size="5.4" text-anchor="middle" fill="rgba(0,0,0,0.88)" class="t">3 (5)</text>
<text x="501.1" y="198.13" font-size="5.4" text-anchor="middle" fill="rgba(0,0,0,0.88)" class="t">&gt;0.99</text>
<text x="372.4" y="205.40" font-size="5.4" text-anchor="middle" fill="rgba(0,0,0,0.88)" class="t">DNMT3A</text>
<text x="442.1" y="205.40" font-size="5.4" text-anchor="middle" fill="rgba(0,0,0,0.88)" class="t">5 (20)</text>
<text x="474.5" y="205.40" font-size="5.4" text-anchor="middle" fill="rgba(0,0,0,0.88)" class="t">13 (22)</text>
<text x="501.1" y="205.40" font-size="5.4" text-anchor="middle" fill="rgba(0,0,0,0.88)" class="t">&gt;0.99</text>
<text x="372.4" y="212.67" font-size="5.4" text-anchor="middle" fill="rgba(0,0,0,0.88)" class="t">CBL</text>
<text x="442.1" y="212.67" font-size="5.4" text-anchor="middle" fill="rgba(0,0,0,0.88)" class="t">2 (8)</text>
<text x="474.5" y="212.67" font-size="5.4" text-anchor="middle" fill="rgba(0,0,0,0.88)" class="t">5 (8)</text>
<text x="501.1" y="212.67" font-size="5.4" text-anchor="middle" fill="rgba(0,0,0,0.88)" class="t">&gt;0.99</text>
<text x="372.4" y="219.94" font-size="5.4" text-anchor="middle" fill="rgba(0,0,0,0.88)" class="t">RUNX1</text>
<text x="442.1" y="219.94" font-size="5.4" text-anchor="middle" fill="rgba(0,0,0,0.88)" class="t">4 (17)</text>
<text x="474.5" y="219.94" font-size="5.4" text-anchor="middle" fill="rgba(0,0,0,0.88)" class="t">9 (15)</text>
<text x="501.1" y="219.94" font-size="5.4" text-anchor="middle" fill="rgba(0,0,0,0.88)" class="t">0.74</text>
<text x="372.4" y="227.21" font-size="5.4" text-anchor="middle" fill="rgba(0,0,0,0.88)" class="t">ZRSR2</text>
<text x="442.1" y="227.21" font-size="5.4" text-anchor="middle" fill="rgba(0,0,0,0.88)" class="t">1 (4)</text>
<text x="474.5" y="227.21" font-size="5.4" text-anchor="middle" fill="rgba(0,0,0,0.88)" class="t">2 (3)</text>
<text x="501.1" y="227.21" font-size="5.4" text-anchor="middle" fill="rgba(0,0,0,0.88)" class="t">&gt;0.99</text>
<text x="372.4" y="234.48" font-size="5.4" text-anchor="middle" fill="rgba(0,0,0,0.88)" class="t">U2AF1</text>
<text x="442.1" y="234.48" font-size="5.4" text-anchor="middle" fill="rgba(0,0,0,0.88)" class="t">2 (8)</text>
<text x="474.5" y="234.48" font-size="5.4" text-anchor="middle" fill="rgba(0,0,0,0.88)" class="t">4 (7)</text>
<text x="501.1" y="234.48" font-size="5.4" text-anchor="middle" fill="rgba(0,0,0,0.88)" class="t">0.66</text>
<text x="372.4" y="241.75" font-size="5.4" text-anchor="middle" fill="rgba(0,0,0,0.88)" class="t">BCOR</text>
<text x="442.1" y="241.75" font-size="5.4" text-anchor="middle" fill="rgba(0,0,0,0.88)" class="t">4 (16)</text>
<text x="474.5" y="241.75" font-size="5.4" text-anchor="middle" fill="rgba(0,0,0,0.88)" class="t">7 (12)</text>
<text x="501.1" y="241.75" font-size="5.4" text-anchor="middle" fill="rgba(0,0,0,0.88)" class="t">0.48</text>
<text x="372.4" y="249.02" font-size="5.4" text-anchor="middle" fill="rgba(0,0,0,0.88)" class="t">TP53</text>
<text x="442.1" y="249.02" font-size="5.4" text-anchor="middle" fill="rgba(0,0,0,0.88)" class="t">5 (21)</text>
<text x="474.5" y="249.02" font-size="5.4" text-anchor="middle" fill="rgba(0,0,0,0.88)" class="t">10 (17)</text>
<text x="501.1" y="249.02" font-size="5.4" text-anchor="middle" fill="rgba(0,0,0,0.88)" class="t">0.54</text>
<text x="372.4" y="256.29" font-size="5.4" text-anchor="middle" fill="rgba(0,0,0,0.88)" class="t">ABL1</text>
<text x="442.1" y="256.29" font-size="5.4" text-anchor="middle" fill="rgba(0,0,0,0.88)" class="t">2 (8)</text>
<text x="474.5" y="256.29" font-size="5.4" text-anchor="middle" fill="rgba(0,0,0,0.88)" class="t">3 (5)</text>
<text x="501.1" y="256.29" font-size="5.4" text-anchor="middle" fill="rgba(0,0,0,0.88)" class="t">0.61</text>
<text x="372.4" y="263.57" font-size="5.4" text-anchor="middle" fill="rgba(0,0,0,0.88)" class="t">ASXL1</text>
<text x="442.1" y="263.57" font-size="5.4" text-anchor="middle" fill="rgba(0,0,0,0.88)" class="t">5 (21)</text>
<text x="474.5" y="263.57" font-size="5.4" text-anchor="middle" fill="rgba(0,0,0,0.88)" class="t">7 (12)</text>
<text x="501.1" y="263.57" font-size="5.4" text-anchor="middle" fill="rgba(0,0,0,0.88)" class="t">0.31</text>
<text x="372.4" y="270.84" font-size="5.4" text-anchor="middle" fill="rgba(0,0,0,0.88)" class="t">TET2</text>
<text x="442.1" y="270.84" font-size="5.4" text-anchor="middle" fill="rgba(0,0,0,0.88)" class="t">9 (38)</text>
<text x="474.5" y="270.84" font-size="5.4" text-anchor="middle" fill="rgba(0,0,0,0.88)" class="t">14 (23)</text>
<text x="501.1" y="270.84" font-size="5.4" text-anchor="middle" fill="rgba(0,0,0,0.88)" class="t">0.17</text>
<text x="372.4" y="278.11" font-size="5.4" text-anchor="middle" fill="rgba(0,0,0,0.88)" class="t">PTPN11</text>
<text x="442.1" y="278.11" font-size="5.4" text-anchor="middle" fill="rgba(0,0,0,0.88)" class="t">1 (4)</text>
<text x="474.5" y="278.11" font-size="5.4" text-anchor="middle" fill="rgba(0,0,0,0.88)" class="t">1 (2)</text>
<text x="501.1" y="278.11" font-size="5.4" text-anchor="middle" fill="rgba(0,0,0,0.88)" class="t">0.47</text>
<text x="372.4" y="285.38" font-size="5.4" text-anchor="middle" fill="rgba(0,0,0,0.88)" class="t">SF3B1</text>
<text x="442.1" y="285.38" font-size="5.4" text-anchor="middle" fill="rgba(0,0,0,0.88)" class="t">7 (29)</text>
<text x="474.5" y="285.38" font-size="5.4" text-anchor="middle" fill="rgba(0,0,0,0.88)" class="t">6 (10)</text>
<text x="501.1" y="285.38" font-size="5.4" text-anchor="middle" fill="rgba(0,0,0,0.88)" class="t">0.04</text>
<text x="372.4" y="292.65" font-size="5.4" text-anchor="middle" fill="rgba(0,0,0,0.88)" class="t">RAS</text>
<text x="442.1" y="292.65" font-size="5.4" text-anchor="middle" fill="rgba(0,0,0,0.88)" class="t">2 (8)</text>
<text x="474.5" y="292.65" font-size="5.4" text-anchor="middle" fill="rgba(0,0,0,0.88)" class="t">1 (2)</text>
<text x="501.1" y="292.65" font-size="5.4" text-anchor="middle" fill="rgba(0,0,0,0.88)" class="t">0.18</text>
<rect x="0" y="0" width="520" height="1.2" fill="#000"/>
<rect x="0" y="0" width="1" height="347" fill="#000"/>
<rect x="518.2" y="0" width="1.8" height="347" fill="#000"/>
<rect x="0" y="345" width="520" height="2" fill="#000"/>
</svg>
</body></html>
